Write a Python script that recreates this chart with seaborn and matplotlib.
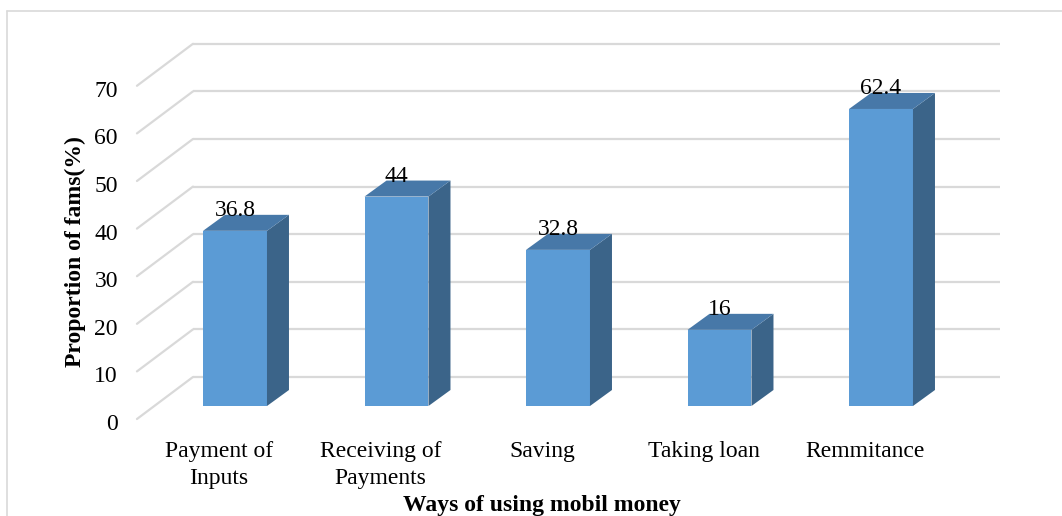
import matplotlib
matplotlib.use("Agg")
import matplotlib.pyplot as plt
import matplotlib.transforms as mtransforms
from matplotlib.patches import Polygon
from matplotlib.lines import Line2D
import seaborn as sns

# Data
categories = ["Payment of\nInputs", "Receiving of\nPayments", "Saving", "Taking loan", "Remmitance"]
values = [36.8, 44, 32.8, 16, 62.4]
y_ticks = [0, 10, 20, 30, 40, 50, 60, 70]
y_title = "Proportion of fams(%)"
x_title = "Ways of using mobil money"

sns.set_theme(style="white")
plt.rcParams["font.family"] = ["Liberation Serif", "DejaVu Serif"]

FRONT = "#5B9BD5"
TOP = "#4778A8"
SIDE = "#3B6489"
GRID = "#D9D9D9"

W, H, DPI = 10.62, 5.16, 100
fig = plt.figure(figsize=(W, H), dpi=DPI)
fig.patch.set_facecolor("white")

# axes = front plane of the bars (pixel geometry)
left_px, right_px = 154.25, 961.75
bottom_px, top_px = 406.0, 406.0 - 70 * 4.76
ax = fig.add_axes([left_px / 1062, (516 - bottom_px) / 516,
                   (right_px - left_px) / 1062, (bottom_px - top_px) / 516])
ax.set_facecolor("none")

sns.barplot(x=categories, y=values, color=FRONT, saturation=1, width=0.396,
            linewidth=0, ax=ax, zorder=3)
ax.set_xlim(-0.5, 4.5)
ax.set_ylim(0, 70)
for s in ax.spines.values():
    s.set_visible(False)
ax.set_xlabel("")
ax.set_ylabel("")

px_x = (right_px - left_px) / 5.0
px_y = (bottom_px - top_px) / 70.0


def shift(x, y, ox, oy):
    """Move a data point by a pixel offset (ox right, oy up)."""
    return x + ox / px_x, y + oy / px_y


# depth offsets in pixels relative to bar front plane
BACK = (38.7, 29.0)
FLOOR = (-17.3, -13.0)
DEPTH = (22.0, 16.0)

# back wall gridlines and left wall diagonals
for v in y_ticks:
    x0, y0 = shift(-0.5, v, *BACK)
    x1, y1 = shift(4.5, v, *BACK)
    ax.add_line(Line2D([x0, x1], [y0, y1], color=GRID, lw=1.6, zorder=1,
                       solid_capstyle="butt", clip_on=False))
    xf, yf = shift(-0.5, v, *FLOOR)
    ax.add_line(Line2D([xf, x0], [yf, y0], color=GRID, lw=1.6, zorder=1,
                       clip_on=False))

# bar top and side faces
half = 0.396 / 2
for i, v in enumerate(values):
    xl, xr = i - half, i + half
    side = [(xr, 0), shift(xr, 0, *DEPTH), shift(xr, v, *DEPTH), (xr, v)]
    top = [(xl, v), shift(xl, v, *DEPTH), shift(xr, v, *DEPTH), (xr, v)]
    ax.add_patch(Polygon(side, closed=True, facecolor=SIDE, edgecolor="none",
                         zorder=3, clip_on=False))
    ax.add_patch(Polygon(top, closed=True, facecolor=TOP, edgecolor="none",
                         zorder=3, clip_on=False))
    lx, ly = shift(i, v, 0, DEPTH[1] - 1)
    ax.text(lx, ly, f"{v:g}", ha="center", va="baseline", fontsize=17,
            color="black", zorder=5, clip_on=False)

# ticks
ax.set_yticks(y_ticks)
ax.set_yticklabels([str(t) for t in y_ticks])
ax.tick_params(axis="y", length=0, pad=13.7, labelsize=17, colors="black")
ytr = mtransforms.ScaledTranslation(FLOOR[0] / DPI, (FLOOR[1] - 3) / DPI, fig.dpi_scale_trans)
for lab in ax.get_yticklabels():
    lab.set_transform(lab.get_transform() + ytr)

ax.set_xticks(range(len(categories)))
ax.set_xticklabels(categories, linespacing=1.43, multialignment="center")
ax.tick_params(axis="x", length=0, pad=15.5, labelsize=17, colors="black")
xtr = mtransforms.ScaledTranslation(-16 / DPI, FLOOR[1] / DPI, fig.dpi_scale_trans)
for lab in ax.get_xticklabels():
    lab.set_transform(lab.get_transform() + xtr)
    lab.set_linespacing(1.43)
    lab.set_multialignment("center")

# axis titles
fig.text(75 / 1062, (516 - 252) / 516, y_title, rotation=90, ha="center",
         va="center", fontsize=17, fontweight="bold", color="black")
fig.text(542 / 1062, (516 - 505) / 516, x_title, ha="center", va="center",
         fontsize=17, fontweight="bold", color="black")

# chart area frame
fig.add_artist(Line2D([7 / 1062, 7 / 1062], [0, (516 - 11) / 516],
                      transform=fig.transFigure, color=GRID, lw=1.2))
fig.add_artist(Line2D([7 / 1062, 1.0], [(516 - 11) / 516, (516 - 11) / 516],
                      transform=fig.transFigure, color=GRID, lw=1.2))

fig.savefig("out.png", dpi=DPI, facecolor="white")
